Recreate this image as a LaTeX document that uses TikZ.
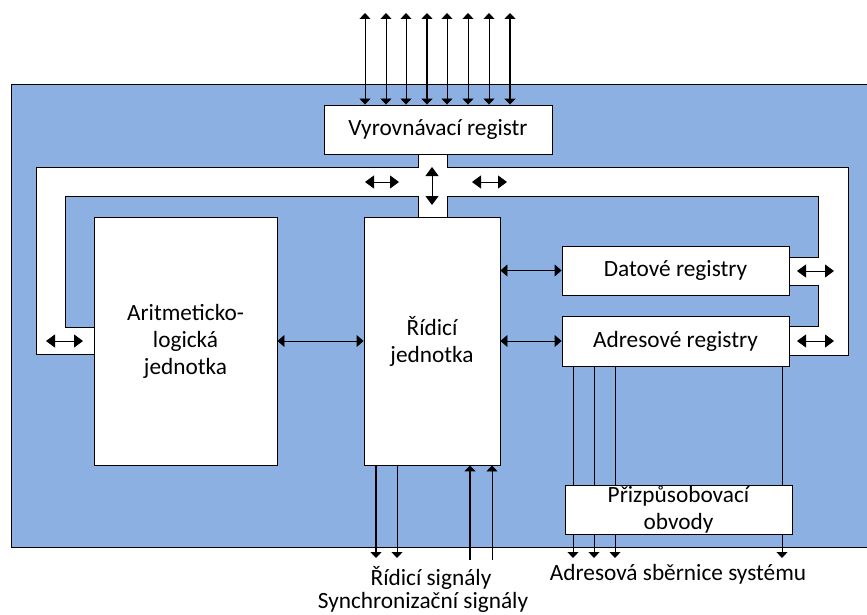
\documentclass[tikz,border=0pt]{standalone}
\usepackage{fontspec}
\setmainfont{Carlito}
\usetikzlibrary{arrows.meta}
\definecolor{panel}{RGB}{141,176,226}
\begin{document}
\begin{tikzpicture}[x=1pt,y=-1pt,
  box/.style={draw=black,fill=white,line width=0.9pt,inner sep=0pt,align=center,
    font=\fontsize{23.3}{27}\selectfont},
  lbl/.style={inner sep=0pt,font=\fontsize{23.3}{27}\selectfont},
  wire/.style={line width=0.9pt},
  bold/.style={line width=2pt},
  both/.style={{Triangle[width=11pt,length=6pt]}-{Triangle[width=11pt,length=6pt]}},
  busarrow/.style={line width=0.9pt,{Triangle[width=13pt,length=9pt]}-{Triangle[width=13pt,length=9pt]}},
  link/.style={line width=0.9pt,{Triangle[width=12pt,length=7pt]}-{Triangle[width=12pt,length=7pt]}},
  sigout/.style={-{Triangle[width=11pt,length=6pt]}},
  sigin/.style={{Triangle[width=11pt,length=6pt]}-},
]
\useasboundingbox (0,0) rectangle (867,615);

% processor panel
\fill[panel] (11,84) rectangle (867,547);
\draw[wire] (867,84) -- (11,84) -- (11,547) -- (867,547);

% internal bus
\draw[wire,fill=white]
  (36,354) -- (36,167) -- (418,167) -- (418,154) -- (447,154) -- (447,167)
  -- (848,167) -- (848,355) -- (789,355) -- (789,326) -- (818,326) -- (818,285)
  -- (789,285) -- (789,257) -- (818,257) -- (818,196) -- (447,196) -- (447,217)
  -- (418,217) -- (418,196) -- (65,196) -- (65,327) -- (94,327) -- (94,354) -- cycle;

% blocks
\node[box,minimum width=228pt,minimum height=49pt] (vyr) at (438,129.5) {Vyrovnávací registr};
\node[box,minimum width=183pt,minimum height=248pt] (alu) at (185.5,341) {Aritmeticko-\\logická\\jednotka};
\node[box,minimum width=136pt,minimum height=248pt] (rj) at (432,341) {Řídicí\\jednotka};
\node[box,minimum width=227pt,minimum height=49pt] (dat) at (675.5,270.5) {Datové registry};
\node[box,minimum width=227pt,minimum height=50pt] (adr) at (675.5,341) {Adresové registry};

% external data bus lines
\foreach \x/\w [count=\i] in {365/wire,386/wire,406/wire,427/bold,447/wire,468/wire,489/wire,510/bold}{
  \coordinate (t\i) at (\x,13);
  \draw[\w,both] (t\i) -- (t\i |- vyr.north);
}

% bus transfer arrows
\coordinate (b1) at (365,182); \coordinate (b2) at (399,182);
\coordinate (b3) at (472,182); \coordinate (b4) at (507,182);
\coordinate (b5) at (432,167); \coordinate (b6) at (432,205);
\coordinate (b7) at (46,341);  \coordinate (b8) at (83,341);
\coordinate (b9) at (797,271); \coordinate (b10) at (834,271);
\coordinate (b11) at (797,341); \coordinate (b12) at (834,341);
\draw[busarrow] (b1) -- (b2);
\draw[busarrow] (b3) -- (b4);
\draw[busarrow] (b5) -- (b6);
\draw[busarrow] (b7) -- (b8);
\draw[busarrow] (b9) -- (b10);
\draw[busarrow] (b11) -- (b12);

% links between blocks
\draw[link] (alu.east) -- (rj.west);
\draw[link] (rj.east |- dat.west) -- (dat.west);
\draw[link] (rj.east) -- (adr.west);

% control and synchronisation signals
\coordinate (c1) at (376,558); \coordinate (c2) at (397,558);
\coordinate (c3) at (470,560); \coordinate (c4) at (492,560);
\draw[bold,sigout] (c1 |- rj.south) -- (c1);
\draw[wire,sigout] (c2 |- rj.south) -- (c2);
\draw[bold,sigin] (c3 |- rj.south) -- (c3);
\draw[wire,sigin] (c4 |- rj.south) -- (c4);

% address bus lines
\foreach \x [count=\i] in {573,594,615,782}{
  \coordinate (a\i) at (\x,558);
  \draw[wire,sigout] (a\i |- adr.south) -- (a\i);
}
\node[box,minimum width=227pt,minimum height=49pt] (pri) at (678.5,509.5) {Přizpůsobovací\\obvody};

% labels
\node[lbl] (rs) at (431,578) {Řídicí signály};
\node[lbl] (ss) at (423,602) {Synchronizační signály};
\node[lbl] (as) at (678,574) {Adresová sběrnice systému};
\end{tikzpicture}
\end{document}
